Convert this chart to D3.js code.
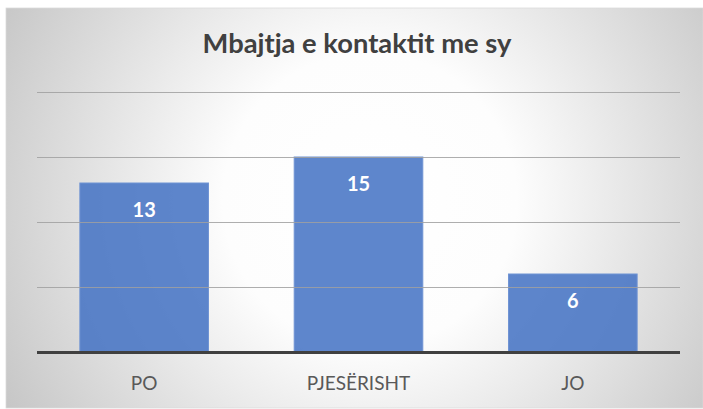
<!DOCTYPE html>
<html><head><meta charset="utf-8">
<script src="https://cdn.jsdelivr.net/npm/d3@7"></script>
<style>html,body{margin:0;padding:0;background:#fff;}svg{display:block;}</style>
</head><body>
<script>
const title = "Mbajtja e kontaktit me sy";
const categories = ["PO", "PJESËRISHT", "JO"];
const values = [13, 15, 6];
const yTicks = [0, 5, 10, 15, 20];

const W = 703, H = 409;
const svg = d3.select("body").append("svg").attr("width", W).attr("height", H);
const defs = svg.append("defs");
const rg = defs.append("radialGradient").attr("id", "bg")
  .attr("gradientUnits", "userSpaceOnUse")
  .attr("cx", 370).attr("cy", 200).attr("r", 420);
rg.append("stop").attr("offset", "0%").attr("stop-color", "#ffffff");
rg.append("stop").attr("offset", "35%").attr("stop-color", "#fdfdfd");
rg.append("stop").attr("offset", "100%").attr("stop-color", "#c6c6c6");

svg.append("rect").attr("x", 6).attr("y", 8).attr("width", 697).attr("height", 400)
  .attr("fill", "url(#bg)").attr("stroke", "#d9d9d9").attr("stroke-width", 0.75);

const font = "Lato, 'Open Sans', sans-serif";
const plot = {left: 37, right: 680, top: 92, bottom: 352};

const x = d3.scaleBand().domain(categories).range([plot.left, plot.right])
  .paddingInner(0.4).paddingOuter(0.2);
const y = d3.scaleLinear().domain([0, 20]).range([plot.bottom, plot.top]);

// bars
svg.append("g").selectAll("rect").data(values).join("rect")
  .attr("x", (d, i) => x(categories[i]))
  .attr("y", d => y(d))
  .attr("width", x.bandwidth())
  .attr("height", d => y(0) - y(d))
  .attr("fill", "#4472c4").attr("fill-opacity", 0.86)
  .attr("stroke", "#6f93d3").attr("stroke-width", 1);

// gridlines (drawn over bars)
svg.append("g").selectAll("line").data(yTicks.filter(t => t > 0)).join("line")
  .attr("x1", plot.left).attr("x2", plot.right)
  .attr("y1", d => Math.round(y(d)) + 0.5).attr("y2", d => Math.round(y(d)) + 0.5)
  .attr("stroke", "#a0a0a0").attr("stroke-opacity", 0.85).attr("stroke-width", 1);

// baseline
svg.append("line").attr("x1", plot.left).attr("x2", plot.right)
  .attr("y1", y(0) + 0.5).attr("y2", y(0) + 0.5)
  .attr("stroke", "#404040").attr("stroke-width", 3);

// data labels
svg.append("g").selectAll("text").data(values).join("text")
  .attr("x", (d, i) => x(categories[i]) + x.bandwidth() / 2)
  .attr("y", d => y(d) + 34)
  .attr("text-anchor", "middle")
  .attr("font-family", font).attr("font-weight", "bold").attr("font-size", 20)
  .attr("fill", "#ffffff").text(d => d);

// category labels
const xAxis = d3.axisBottom(x).tickSize(0).tickPadding(0);
const gx = svg.append("g").attr("transform", `translate(0,${plot.bottom})`).call(xAxis);
gx.select(".domain").remove();
gx.selectAll("text").attr("y", 38).attr("dy", 0)
  .attr("font-family", font).attr("font-size", 19).attr("fill", "#595959");

// title
const t = svg.append("text").attr("x", 357).attr("y", 53)
  .attr("text-anchor", "middle")
  .attr("font-family", font).attr("font-weight", "bold").attr("font-size", 26)
  .attr("fill", "#404040").text(title);
const tw = t.node().getComputedTextLength();
t.attr("font-size", 26 * 309 / tw);
</script>
</body></html>
